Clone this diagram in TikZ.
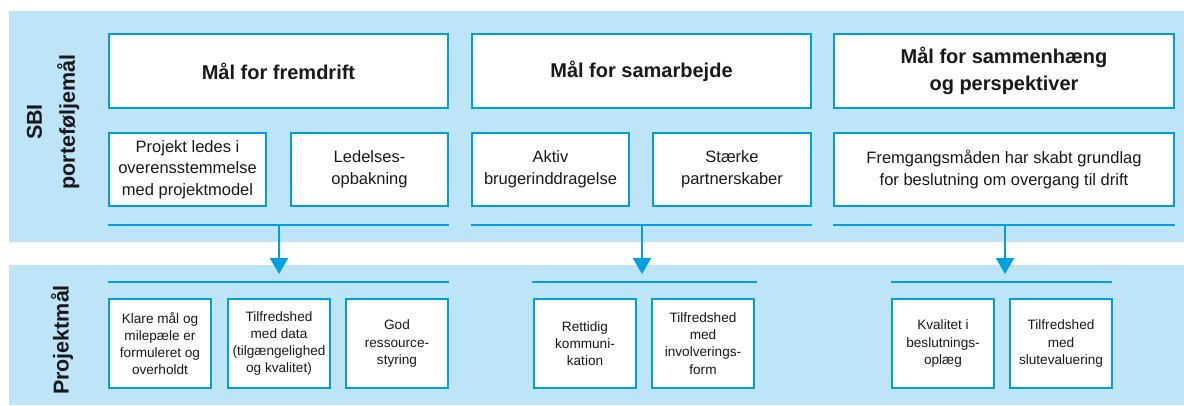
\documentclass[tikz,border=0pt]{standalone}
\usepackage{fontspec}
\setmainfont{Liberation Sans}
\usetikzlibrary{arrows.meta}
\definecolor{panelblue}{RGB}{190,228,248}
\definecolor{lineblue}{RGB}{0,159,227}
\definecolor{txt}{RGB}{25,25,25}
\tikzset{
  panel/.style={fill=panelblue, draw=none},
  titlebox/.style={draw=lineblue, fill=white, line width=2pt, inner sep=0pt, outer sep=0pt,
    align=center, text=txt, font=\fontsize{20}{27}\selectfont\bfseries},
  midbox/.style={draw=lineblue, fill=white, line width=2pt, inner sep=0pt, outer sep=0pt,
    align=center, text=txt, font=\fontsize{16.5}{21.7}\selectfont},
  lowbox/.style={draw=lineblue, fill=white, line width=2pt, inner sep=0pt, outer sep=0pt,
    align=center, text=txt, minimum width=102pt, minimum height=89pt,
    font=\fontsize{13.6}{17.2}\selectfont},
  sideline/.style={draw=lineblue, line width=2pt},
  flowarrow/.style={draw=lineblue, line width=2pt, -{Triangle[width=18pt,length=16pt]}},
  sidelabel/.style={rotate=90, align=center, text=txt, inner sep=0pt,
    font=\fontsize{21.5}{33}\selectfont\bfseries}
}
\begin{document}
\begin{tikzpicture}[x=1pt,y=-1pt]
\useasboundingbox (0,0) rectangle (1184,405);
% panels
\fill[panel] (9,11) rectangle (1184,242);
\fill[panel] (9,265) rectangle (1184,405);
% side labels
\node[sidelabel] (sbi) at (53,122) {SBI\\porteføljemål};
\node[sidelabel] (proj) at (62,340) {Projektmål};
% title boxes
\node[titlebox, minimum width=339pt, minimum height=74pt] (t1) at (278.5,71) {Mål for fremdrift};
\node[titlebox, minimum width=339pt, minimum height=74pt] (t2) at (641.5,71) {Mål for samarbejde};
\node[titlebox, minimum width=340pt, minimum height=74pt] (t3) at (1004,71) {Mål for sammenhæng\\og perspektiver};
% middle boxes
\node[midbox, minimum width=157pt, minimum height=73pt] (m1) at (187.5,169.5) {Projekt ledes i\\overensstemmelse\\med projektmodel};
\node[midbox, minimum width=157pt, minimum height=73pt] (m2) at (369.5,169.5) {Ledelses-\\opbakning};
\node[midbox, minimum width=157pt, minimum height=73pt] (m3) at (550.5,169.5) {Aktiv\\brugerinddragelse};
\node[midbox, minimum width=158pt, minimum height=73pt] (m4) at (732,169.5) {Stærke\\partnerskaber};
\node[midbox, minimum width=340pt, minimum height=73pt] (m5) at (1004,169.5) {Fremgangsmåden har skabt grundlag\\for beslutning om overgang til drift};
% upper rules
\coordinate (u1a) at (108,225); \coordinate (u1b) at (449,225);
\coordinate (u2a) at (471,225); \coordinate (u2b) at (812,225);
\coordinate (u3a) at (833,225); \coordinate (u3b) at (1175,225);
\draw[sideline] (u1a) -- (u1b);
\draw[sideline] (u2a) -- (u2b);
\draw[sideline] (u3a) -- (u3b);
% lower rules
\coordinate (d1a) at (108,282); \coordinate (d1b) at (449,282);
\coordinate (d2a) at (532,282); \coordinate (d2b) at (757,282);
\coordinate (d3a) at (891,282); \coordinate (d3b) at (1112,282);
\draw[sideline] (d1a) -- (d1b);
\draw[sideline] (d2a) -- (d2b);
\draw[sideline] (d3a) -- (d3b);
% arrows
\coordinate (a1s) at (279,225); \coordinate (a1e) at (279,274);
\coordinate (a2s) at (642,225); \coordinate (a2e) at (642,274);
\coordinate (a3s) at (1005,225); \coordinate (a3e) at (1005,274);
\draw[flowarrow] (a1s) -- (a1e);
\draw[flowarrow] (a2s) -- (a2e);
\draw[flowarrow] (a3s) -- (a3e);
% lower boxes
\node[lowbox] (b1) at (160,343.5) {Klare mål og\\milepæle er\\formuleret og\\overholdt};
\node[lowbox] (b2) at (279,343.5) {Tilfredshed\\med data\\(tilgængelighed\\og kvalitet)};
\node[lowbox] (b3) at (397,343.5) {God\\ressource-\\styring};
\node[lowbox] (b4) at (585,343.5) {Rettidig\\kommuni-\\kation};
\node[lowbox] (b5) at (703,343.5) {Tilfredshed\\med\\involverings-\\form};
\node[lowbox] (b6) at (943,343.5) {Kvalitet i\\beslutnings-\\oplæg};
\node[lowbox] (b7) at (1061,343.5) {Tilfredshed\\med\\slutevaluering};
\end{tikzpicture}
\end{document}
